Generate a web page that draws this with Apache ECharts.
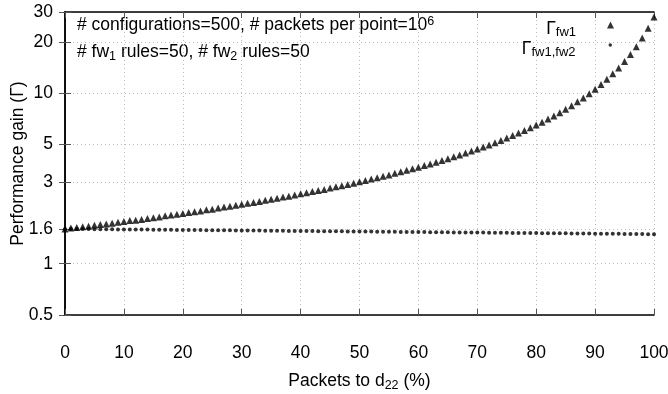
<!DOCTYPE html>
<html>
<head>
<meta charset="utf-8">
<script src="https://cdn.jsdelivr.net/npm/echarts@6/dist/echarts.min.js"></script>
<style>
  html, body { margin: 0; padding: 0; background: #fff; }
  #main { width: 668px; height: 394px; }
</style>
</head>
<body>
<div id="main"></div>
<script>
var packetsPct = [
  0, 1, 2, 3, 4, 5, 6, 7, 8, 9, 10, 11, 12, 13, 14, 15, 16, 17, 18, 19,
  20, 21, 22, 23, 24, 25, 26, 27, 28, 29, 30, 31, 32, 33, 34, 35, 36, 37, 38, 39,
  40, 41, 42, 43, 44, 45, 46, 47, 48, 49, 50, 51, 52, 53, 54, 55, 56, 57, 58, 59,
  60, 61, 62, 63, 64, 65, 66, 67, 68, 69, 70, 71, 72, 73, 74, 75, 76, 77, 78, 79,
  80, 81, 82, 83, 84, 85, 86, 87, 88, 89, 90, 91, 92, 93, 94, 95, 96, 97, 98, 99, 100
];
var gainFw1 = [
  1.60, 1.62, 1.63, 1.65, 1.66, 1.68, 1.70, 1.71, 1.73, 1.75,
  1.77, 1.79, 1.80, 1.82, 1.84, 1.86, 1.88, 1.91, 1.93, 1.95,
  1.97, 2.00, 2.02, 2.04, 2.07, 2.09, 2.12, 2.15, 2.17, 2.20,
  2.23, 2.26, 2.29, 2.32, 2.36, 2.39, 2.42, 2.46, 2.49, 2.53,
  2.57, 2.61, 2.65, 2.69, 2.73, 2.78, 2.83, 2.87, 2.92, 2.97,
  3.03, 3.08, 3.14, 3.20, 3.26, 3.32, 3.39, 3.46, 3.53, 3.61,
  3.68, 3.77, 3.85, 3.94, 4.04, 4.13, 4.24, 4.35, 4.46, 4.58,
  4.71, 4.84, 4.98, 5.13, 5.29, 5.47, 5.65, 5.84, 6.05, 6.27,
  6.51, 6.77, 7.06, 7.36, 7.70, 8.06, 8.46, 8.91, 9.40, 9.95,
  10.58, 11.28, 12.08, 13.01, 14.09, 15.36, 16.89, 18.76, 21.09, 24.09,
  28.07
];
var gainFw1Fw2 = [
  1.600, 1.599, 1.598, 1.597, 1.596, 1.595, 1.593, 1.592, 1.591, 1.590,
  1.589, 1.588, 1.587, 1.586, 1.585, 1.584, 1.582, 1.581, 1.580, 1.579,
  1.578, 1.577, 1.576, 1.575, 1.574, 1.573, 1.571, 1.570, 1.569, 1.568,
  1.567, 1.566, 1.565, 1.564, 1.563, 1.562, 1.560, 1.559, 1.558, 1.557,
  1.556, 1.555, 1.554, 1.553, 1.552, 1.551, 1.549, 1.548, 1.547, 1.546,
  1.545, 1.544, 1.543, 1.542, 1.541, 1.540, 1.538, 1.537, 1.536, 1.535,
  1.534, 1.533, 1.532, 1.531, 1.530, 1.529, 1.527, 1.526, 1.525, 1.524,
  1.523, 1.522, 1.521, 1.520, 1.519, 1.518, 1.516, 1.515, 1.514, 1.513,
  1.512, 1.511, 1.510, 1.509, 1.508, 1.507, 1.505, 1.504, 1.503, 1.502,
  1.501, 1.500, 1.499, 1.498, 1.497, 1.496, 1.494, 1.493, 1.492, 1.491,
  1.490
];
var yTicks = [0.5, 1, 1.6, 3, 5, 10, 20, 30];

var FONT = 'Liberation Sans';
var FS = 17.5;

function pairs(ys) {
  return ys.map(function (v, i) { return [packetsPct[i], v]; });
}

var chartDom = document.getElementById('main');
var myChart = echarts.init(chartDom, null, { renderer: 'canvas' });

var gridLine = { show: true, lineStyle: { color: '#bbb', type: [1, 3], width: 1 } };
var frameLine = { show: true, lineStyle: { color: '#000', width: 1.5 } };
var innerTick = { show: true, inside: true, length: 6, lineStyle: { color: '#555' } };

// legend text: Γ with a subscript
function legendText(padRight) {
  return {
    color: '#000', fontFamily: FONT, padding: [8, padRight, 0, 0],
    rich: {
      g: { fontSize: FS, color: '#000', fontFamily: FONT, lineHeight: 17 },
      s: { fontSize: 13, color: '#000', fontFamily: FONT, padding: [7, 0, 0, 0], lineHeight: 17 }
    }
  };
}
function legendLabel(name) { return '{g|Γ}{s|' + name + '}'; }

var option = {
  animation: false,
  textStyle: { fontFamily: FONT },
  grid: { left: 65, right: 14, top: 12, bottom: 79, outerBoundsMode: 'none', containLabel: false },
  xAxis: [
    {
      type: 'value', min: 0, max: 100, interval: 10,
      axisLine: frameLine, axisTick: innerTick, splitLine: gridLine,
      axisLabel: { fontSize: FS, color: '#000', margin: 29, fontFamily: FONT },
      name: 'Packets to d{s|22} (%)',
      nameLocation: 'middle', nameGap: 56, nameMoveOverlap: false,
      nameTextStyle: {
        fontSize: FS, color: '#000', fontFamily: FONT,
        rich: { s: { fontSize: 12.5, padding: [8, 0, 0, 0], fontFamily: FONT, color: '#000' } }
      }
    },
    {
      type: 'value', min: 0, max: 100, interval: 10, position: 'top',
      axisLine: frameLine, axisTick: innerTick, splitLine: { show: false },
      axisLabel: { show: false }
    }
  ],
  yAxis: [
    {
      type: 'log', min: 0.5, max: 30, logBase: 10,
      axisLine: frameLine,
      axisTick: { show: true, inside: true, length: 6, lineStyle: { color: '#555' }, customValues: yTicks },
      splitLine: gridLine,
      axisLabel: { fontSize: FS, color: '#000', margin: 12, fontFamily: FONT, customValues: yTicks },
      name: 'Performance gain (Γ)',
      nameLocation: 'middle', nameGap: 38, nameMoveOverlap: false,
      nameTextStyle: { fontSize: FS, color: '#000', fontFamily: FONT }
    },
    {
      type: 'log', min: 0.5, max: 30, logBase: 10, position: 'right',
      axisLine: frameLine,
      axisTick: { show: true, inside: true, length: 6, lineStyle: { color: '#555' }, customValues: yTicks },
      splitLine: { show: false },
      axisLabel: { show: false, customValues: yTicks }
    }
  ],
  legend: [
    {
      orient: 'vertical', align: 'right', right: 49, top: 14,
      itemWidth: 7, itemHeight: 7,
      data: [{ name: 'fw1', icon: 'triangle' }],
      formatter: legendLabel, textStyle: legendText(26)
    },
    {
      orient: 'vertical', align: 'right', right: 51, top: 34,
      itemWidth: 3.5, itemHeight: 3.5,
      data: [{ name: 'fw1,fw2', icon: 'circle' }],
      formatter: legendLabel, textStyle: legendText(28)
    }
  ],
  graphic: [
    {
      type: 'text', left: 77, top: 12,
      style: {
        text: '# configurations=500, # packets per point=10{sup|6}\n# fw{sub|1} rules=50, # fw{sub|2} rules=50',
        fontSize: FS, fontFamily: FONT, fill: '#000', lineHeight: 27,
        rich: {
          sup: { fontSize: 12.5, fontFamily: FONT, fill: '#000', padding: [0, 0, 8, 0] },
          sub: { fontSize: 12.5, fontFamily: FONT, fill: '#000', padding: [8, 0, 0, 0] }
        }
      }
    }
  ],
  series: [
    {
      name: 'fw1', type: 'scatter', symbol: 'triangle', symbolSize: 7,
      itemStyle: { color: '#000' },
      data: pairs(gainFw1)
    },
    {
      name: 'fw1,fw2', type: 'scatter', symbol: 'circle', symbolSize: 4,
      itemStyle: { color: '#000' },
      data: pairs(gainFw1Fw2)
    }
  ]
};
option && myChart.setOption(option);
</script>
</body>
</html>
